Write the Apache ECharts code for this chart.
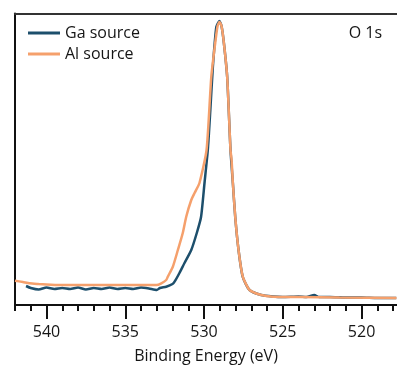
<!DOCTYPE html>
<html>
<head>
<meta charset="utf-8">
<script src="https://cdn.jsdelivr.net/npm/echarts@6/dist/echarts.min.js"></script>
<style>html,body{margin:0;padding:0;background:#fff}#c{width:397px;height:365px}</style>
</head>
<body>
<div id="c"></div>
<script>
const seriesNames = ['Ga source', 'Al source'];
const xTickValues = [540, 535, 530, 525, 520];
const xMinorValues = [518,519,520,521,522,523,524,525,526,527,528,529,530,531,532,533,534,535,536,537,538,539,540,541,542];
const panelLabel = 'O 1s';
const xName = 'Binding Energy (eV)';

const gaEnergy = [541.3,541.0,540.5,540.0,539.5,539.0,538.5,538.0,537.5,537.0,536.5,536.0,535.5,535.0,534.5,534.0,533.5,533.0,532.8,532.4,532.0,531.87,531.56,531.24,530.81,530.46,530.19,529.97,529.76,529.6,529.44,529.22,529.02,528.89,528.74,528.53,528.32,528.17,528.02,527.81,527.54,527.11,526.37,525.63,525.0,524.0,523.5,523.0,522.7,522.0,521.0,520.0,519.0,518.0,517.8];
const gaCounts = [19,17,15.5,17.5,16,17,16,17.5,15.5,17,16,17.5,16,17,16,17.5,16.5,15,17,18.3,21,23.3,32,42,55,72,88,122,155,195,238,278,284,279,262,228,155,122,88,55,28,15,10,8.5,8,8.5,8,10,8,8,7.5,7.5,7,7,7];

const alEnergy = [542.0,541.5,541.08,540.5,540.0,539.17,538,537,536,535,534,533.03,532.71,532.40,532.30,531.98,531.66,531.35,531.13,530.81,530.60,530.29,529.84,529.54,529.29,529.14,529.02,528.89,528.74,528.53,528.32,528.25,528.17,528.02,527.81,527.54,527.11,526.37,525.63,523.94,521.40,517.78];
const alCounts = [24.3,23,21.7,21,20.5,20,20,20,20,20,20,20,21.7,25,28.3,38.3,55,72,88.3,105,112,122,155,228,262,279,283,279,262,228,155,145,122,88.3,55,28.3,15,10,8.3,8,7.5,7];

const gaColor = '#1d4f6c';
const alColor = '#f5a06c';
const font = '"Open Sans", sans-serif';
const textColor = '#151515';

const chart = echarts.init(document.getElementById('c'), null, {renderer: 'canvas'});
const xBase = {type: 'value', min: 517.75, max: 542, inverse: true, gridIndex: 0, splitLine: {show: false}};
chart.setOption({
  animation: false,
  grid: {left: 15, right: 0, top: 13.5, bottom: 57, containLabel: false, outerBoundsMode: 'none'},
  title: {text: panelLabel, right: 10, top: 20, textStyle: {fontFamily: font, fontSize: 16, fontWeight: 'normal', color: textColor, lineHeight: 16}},
  legend: {
    orient: 'vertical', left: 23, top: 20, itemWidth: 32, itemHeight: 3, itemGap: 5, icon: 'rect',
    data: seriesNames,
    textStyle: {fontFamily: font, fontSize: 16, color: textColor, lineHeight: 16}
  },
  xAxis: [
    Object.assign({}, xBase, {
      position: 'bottom',
      name: xName, nameLocation: 'middle', nameGap: 40,
      nameTextStyle: {fontFamily: font, fontSize: 16, color: textColor},
      axisLine: {show: true, lineStyle: {color: '#111', width: 2}},
      axisTick: {show: true, inside: false, length: 6, customValues: xMinorValues, lineStyle: {color: '#111', width: 2}},
      axisLabel: {show: true, customValues: xTickValues, margin: 16, fontFamily: font, fontSize: 16, color: textColor}
    }),
    Object.assign({}, xBase, {
      position: 'bottom',
      axisLine: {show: false},
      axisTick: {show: true, inside: false, length: 11, customValues: xTickValues, lineStyle: {color: '#111', width: 2}},
      axisLabel: {show: false}
    }),
    Object.assign({}, xBase, {
      position: 'top',
      axisLine: {show: true, lineStyle: {color: '#333', width: 2}},
      axisTick: {show: false},
      axisLabel: {show: false}
    })
  ],
  yAxis: {
    type: 'value', min: -3, max: 291.5,
    axisLine: {show: true, lineStyle: {color: '#111', width: 2}},
    axisTick: {show: false}, axisLabel: {show: false}, splitLine: {show: false}
  },
  series: [
    {name: seriesNames[0], type: 'line', xAxisIndex: 0, showSymbol: false, smooth: 0.2,
     data: gaEnergy.map((e, i) => [e, gaCounts[i]]),
     lineStyle: {color: gaColor, width: 2.5}, itemStyle: {color: gaColor}},
    {name: seriesNames[1], type: 'line', xAxisIndex: 0, showSymbol: false, smooth: 0.2,
     data: alEnergy.map((e, i) => [e, alCounts[i]]),
     lineStyle: {color: alColor, width: 2.5}, itemStyle: {color: alColor}}
  ]
});
</script>
</body>
</html>
